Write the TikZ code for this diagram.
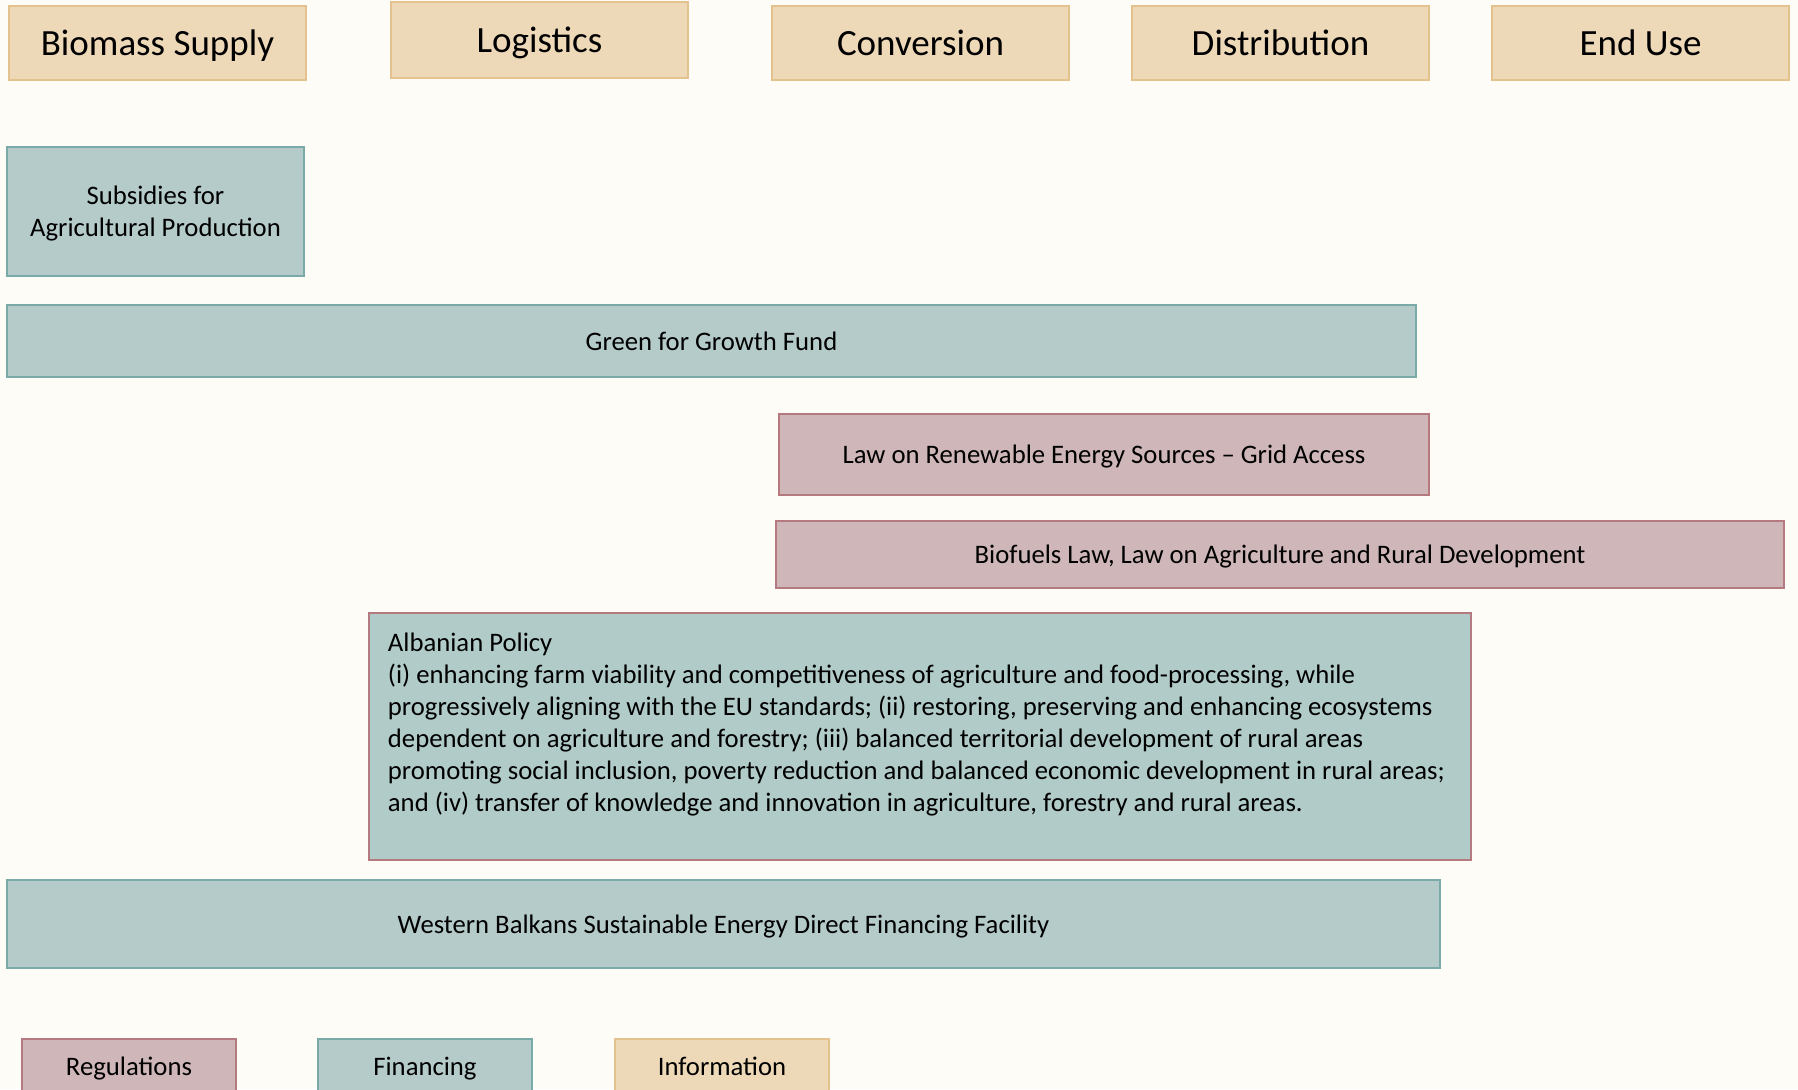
\documentclass[tikz,border=0pt]{standalone}
\usepackage{fontspec}
\setmainfont{Carlito}
\definecolor{bgcream}{HTML}{FDFCF7}
\definecolor{stagefill}{HTML}{EDD8B8}
\definecolor{stageline}{HTML}{E3C28E}
\definecolor{finfill}{HTML}{B4CBC9}
\definecolor{finline}{HTML}{7AAAA8}
\definecolor{albfill}{HTML}{B0CBC8}
\definecolor{regfill}{HTML}{CEB6B9}
\definecolor{regline}{HTML}{B47A80}
\tikzset{
  box/.style={draw, line width=2.5pt, inner sep=0pt, align=center, text depth=0pt,
    font=\fontsize{26.7}{32}\selectfont},
  stage/.style={box, fill=stagefill, draw=stageline, minimum width=297,
    minimum height=74, font=\fontsize{37}{44}\selectfont},
  fin/.style={box, fill=finfill, draw=finline},
  reg/.style={box, fill=regfill, draw=regline},
  legend/.style={box, minimum width=214, minimum height=54}
}

\begin{document}
\begin{tikzpicture}[x=1pt,y=-1pt]
\useasboundingbox (0,0) rectangle (1798,1089);
\fill[bgcream] (0,0) rectangle (1798,1089);
\clip (0,0) rectangle (1798,1089);
% stages of the chain
\node[stage] (supply) at (157.5,43) {Biomass Supply};
\node[stage, minimum height=76] (logist) at (539.5,40) {Logistics};
\node[stage] (convers) at (920.5,43) {Conversion};
\node[stage] (distrib) at (1280.5,43) {Distribution};
\node[stage] (enduse) at (1640.5,43) {End Use};
% measures
\node[fin, minimum width=297, minimum height=129] (subsid) at (155.5,211.5) {Subsidies for\\Agricultural Production};
\node[fin, minimum width=1409, minimum height=72] (green) at (711.5,341) {Green for Growth Fund};
\node[reg, minimum width=650, minimum height=81] (reslaw) at (1104,454.5) {Law on Renewable Energy Sources -- Grid Access};
\node[reg, minimum width=1008, minimum height=67] (biolaw) at (1280,554.5) {Biofuels Law, Law on Agriculture and Rural Development};
\node[fin, draw=regline, fill=albfill, minimum width=1102, minimum height=247] (albpol) at (920,736.5) {};
\node[anchor=north west, align=left, inner sep=0pt, font=\fontsize{26.7}{32}\selectfont] (albtxt) at ([shift={(20,21.5)}]albpol.north west)
  {Albanian Policy\\
   (i) enhancing farm viability and competitiveness of agriculture and food-processing, while\\
   progressively aligning with the EU standards; (ii) restoring, preserving and enhancing ecosystems\\
   dependent on agriculture and forestry; (iii) balanced territorial development of rural areas\\
   promoting social inclusion, poverty reduction and balanced economic development in rural areas;\\
   and (iv) transfer of knowledge and innovation in agriculture, forestry and rural areas.};
\node[fin, minimum width=1433, minimum height=88] (wbfund) at (723.5,924) {Western Balkans Sustainable Energy Direct Financing Facility};
% legend
\node[legend, reg] (lreg) at (129,1066) {Regulations};
\node[legend, fin] (lfin) at (425,1066) {Financing};
\node[legend, fill=stagefill, draw=stageline] (linfo) at (722,1066) {Information};
\end{tikzpicture}
\end{document}
